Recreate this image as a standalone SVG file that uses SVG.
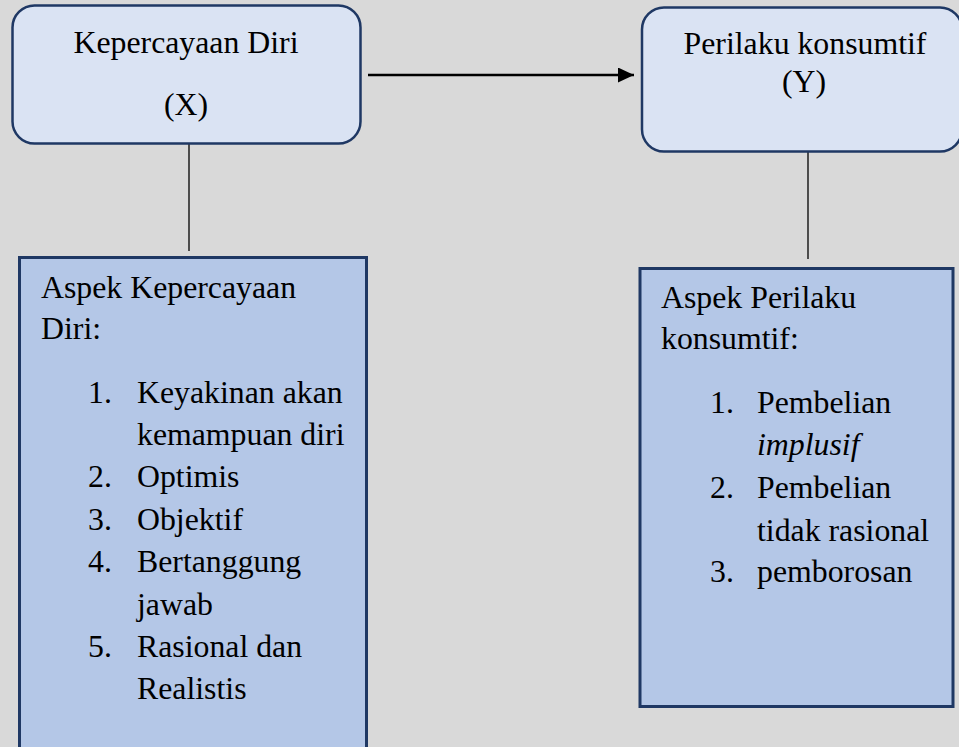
<svg xmlns="http://www.w3.org/2000/svg" width="959" height="747" viewBox="0 0 959 747">
<style>
text{font-family:"Liberation Serif","Times New Roman",serif;font-size:31.8px;fill:#000}
.c{text-anchor:middle}
.top{fill:#dae3f3;stroke:#1f3864;stroke-width:2.5}
.asp{fill:#b4c7e7;stroke:#1f3864;stroke-width:3}
.ln{stroke:#000;stroke-width:1.3;fill:none}
.ar{stroke:#000;stroke-width:2.5;fill:none}
</style>
<defs>
<marker id="ah" markerWidth="16" markerHeight="15" refX="16" refY="7.5" orient="auto" markerUnits="userSpaceOnUse">
<path d="M0,0 L16,7.5 L0,15 Z" fill="#000"/>
</marker>
</defs>
<rect x="0" y="0" width="959" height="747" fill="#d9d9d9"/>
<g id="connectors">
<line class="ar" x1="368" y1="75" x2="634" y2="75" marker-end="url(#ah)"/>
<line class="ln" x1="189" y1="144" x2="189" y2="251"/>
<line class="ln" x1="808" y1="152" x2="808" y2="259"/>
</g>
<g id="nodeX">
<rect class="top" x="12.5" y="5.5" width="348" height="138" rx="22" ry="22"/>
<text class="c" x="186" y="53">Kepercayaan Diri</text>
<text class="c" x="186" y="115">(X)</text>
</g>
<g id="nodeY">
<rect class="top" x="642" y="7.5" width="320" height="144" rx="22" ry="22"/>
<text class="c" x="805" y="54">Perilaku konsumtif</text>
<text class="c" x="804" y="92">(Y)</text>
</g>
<g id="aspekX">
<rect class="asp" x="19.5" y="257.5" width="347" height="500"/>
<text x="41" y="298">Aspek Kepercayaan</text>
<text x="41" y="339">Diri:</text>
<text x="88" y="403">1.</text>
<text x="137" y="403">Keyakinan akan</text>
<text x="137" y="445">kemampuan diri</text>
<text x="88" y="487">2.</text>
<text x="137" y="487">Optimis</text>
<text x="88" y="530">3.</text>
<text x="137" y="530">Objektif</text>
<text x="88" y="572">4.</text>
<text x="137" y="572">Bertanggung</text>
<text x="137" y="615">jawab</text>
<text x="88" y="657">5.</text>
<text x="137" y="657">Rasional dan</text>
<text x="137" y="699">Realistis</text>
</g>
<g id="aspekY">
<rect class="asp" x="640" y="268.5" width="313" height="438"/>
<text x="661" y="308">Aspek Perilaku</text>
<text x="661" y="349">konsumtif:</text>
<text x="710" y="413">1.</text>
<text x="757" y="413">Pembelian</text>
<text x="757" y="455" font-style="italic">implusif</text>
<text x="710" y="498">2.</text>
<text x="757" y="498">Pembelian</text>
<text x="757" y="541">tidak rasional</text>
<text x="710" y="582">3.</text>
<text x="757" y="582">pemborosan</text>
</g>
</svg>
